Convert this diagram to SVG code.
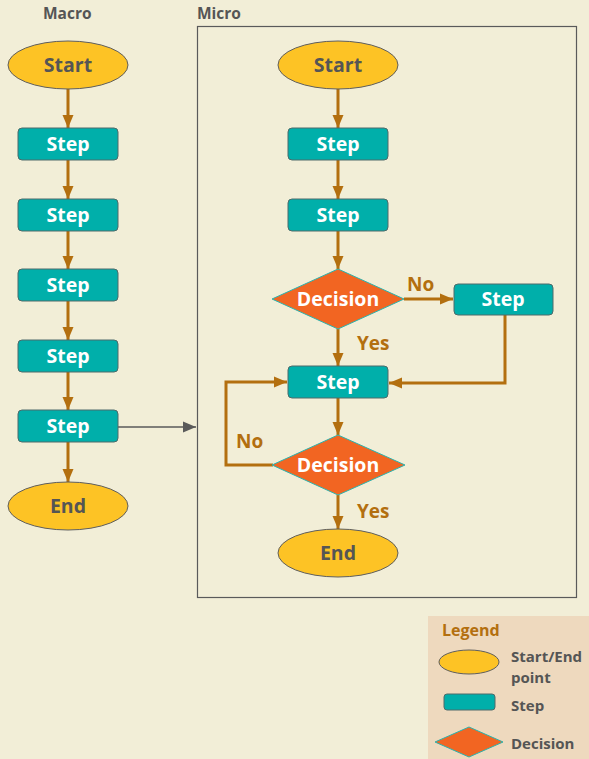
<svg xmlns="http://www.w3.org/2000/svg" width="589" height="759" viewBox="0 0 589 759">
<defs>
<style>
.bg{fill:#F2EED7}
.term{fill:#FDC325;stroke:#5E5E5E;stroke-width:1}
.step{fill:#00AFAA;stroke:#4E6A6A;stroke-width:1}
.dec{fill:#F26522;stroke:#2BB3AE;stroke-width:1}
.conn{fill:none;stroke:#B36F0F;stroke-width:3}
.gconn{fill:none;stroke:#5A5A5A;stroke-width:1.3}
text{font-family:"Open Sans","Noto Sans","Liberation Sans",sans-serif;font-weight:bold}
.tw{fill:#FFFFFF;font-size:19.5px;text-anchor:middle}
.tg{fill:#555555;font-size:19.5px;text-anchor:middle}
.lab{fill:#B36F0F;font-size:19px}
.hdr{fill:#555555;font-size:15.5px}
.leg{fill:#555555;font-size:15px}
</style>
<marker id="ah" markerUnits="userSpaceOnUse" markerWidth="14" markerHeight="14" refX="13" refY="7" orient="auto">
<path d="M0,1.5 L13,7 L0,12.5 Z" fill="#B36F0F"/>
</marker>
<marker id="gah" markerUnits="userSpaceOnUse" markerWidth="14" markerHeight="14" refX="13" refY="7" orient="auto">
<path d="M0,1.5 L13,7 L0,12.5 Z" fill="#5A5A5A"/>
</marker>
</defs>
<rect class="bg" x="0" y="0" width="589" height="759"/>
<text class="hdr" x="43" y="19">Macro</text>
<text class="hdr" x="197" y="19">Micro</text>
<rect id="micro-frame" x="197.5" y="26.5" width="379" height="571" fill="none" stroke="#5A5A5A" stroke-width="1.2"/>

<g id="connectors">
<path class="conn" d="M68,89 V128" marker-end="url(#ah)"/>
<path class="conn" d="M68,160 V199" marker-end="url(#ah)"/>
<path class="conn" d="M68,231 V269" marker-end="url(#ah)"/>
<path class="conn" d="M68,301 V340" marker-end="url(#ah)"/>
<path class="conn" d="M68,372 V410" marker-end="url(#ah)"/>
<path class="conn" d="M68,442 V482" marker-end="url(#ah)"/>
<path class="gconn" d="M118,427 H196" marker-end="url(#gah)"/>
<path class="conn" d="M338,89 V128" marker-end="url(#ah)"/>
<path class="conn" d="M338,160 V199" marker-end="url(#ah)"/>
<path class="conn" d="M338,231 V269" marker-end="url(#ah)"/>
<path class="conn" d="M404,299 H453" marker-end="url(#ah)"/>
<path class="conn" d="M338,329 V366" marker-end="url(#ah)"/>
<path class="conn" d="M505,315 V383 H389" marker-end="url(#ah)"/>
<path class="conn" d="M338,398 V435" marker-end="url(#ah)"/>
<path class="conn" d="M273,465 H226 V382 H287" marker-end="url(#ah)"/>
<path class="conn" d="M338,495 V529" marker-end="url(#ah)"/>
<text class="lab" x="407" y="291">No</text>
<text class="lab" x="357" y="350">Yes</text>
<text class="lab" x="236" y="448">No</text>
<text class="lab" x="357" y="518">Yes</text>
</g>

<g id="macro-start"><ellipse class="term" cx="68" cy="65" rx="60" ry="24"/><text class="tg" x="68" y="72">Start</text></g>
<g id="macro-step1"><rect class="step" x="18" y="128" width="100" height="32" rx="4"/><text class="tw" x="68" y="151">Step</text></g>
<g id="macro-step2"><rect class="step" x="18" y="199" width="100" height="32" rx="4"/><text class="tw" x="68" y="222">Step</text></g>
<g id="macro-step3"><rect class="step" x="18" y="269" width="100" height="32" rx="4"/><text class="tw" x="68" y="292">Step</text></g>
<g id="macro-step4"><rect class="step" x="18" y="340" width="100" height="32" rx="4"/><text class="tw" x="68" y="363">Step</text></g>
<g id="macro-step5"><rect class="step" x="18" y="410" width="100" height="32" rx="4"/><text class="tw" x="68" y="433">Step</text></g>
<g id="macro-end"><ellipse class="term" cx="68" cy="506" rx="60" ry="24"/><text class="tg" x="68" y="513">End</text></g>

<g id="micro-start"><ellipse class="term" cx="338" cy="65" rx="60" ry="24"/><text class="tg" x="338" y="72">Start</text></g>
<g id="micro-step1"><rect class="step" x="288" y="128" width="100" height="32" rx="4"/><text class="tw" x="338" y="151">Step</text></g>
<g id="micro-step2"><rect class="step" x="288" y="199" width="100" height="32" rx="4"/><text class="tw" x="338" y="222">Step</text></g>
<g id="micro-decision1"><polygon class="dec" points="272,299 338,269 404,299 338,329"/><text class="tw" x="338" y="306">Decision</text></g>
<g id="micro-step-right"><rect class="step" x="454" y="284" width="99" height="31" rx="4"/><text class="tw" x="503" y="306">Step</text></g>
<g id="micro-step3"><rect class="step" x="288" y="366" width="100" height="32" rx="4"/><text class="tw" x="338" y="389">Step</text></g>
<g id="micro-decision2"><polygon class="dec" points="272,465 338,435 405,465 338,495"/><text class="tw" x="338" y="472">Decision</text></g>
<g id="micro-end"><ellipse class="term" cx="338" cy="553" rx="60" ry="24"/><text class="tg" x="338" y="560">End</text></g>

<g id="legend">
<rect x="428" y="616" width="161" height="143" fill="#EED9BE"/>
<text x="442" y="636" fill="#B36F0F" font-size="16">Legend</text>
<ellipse class="term" cx="469" cy="662" rx="30" ry="12"/>
<text class="leg" x="511" y="662">Start/End</text>
<text class="leg" x="511" y="683">point</text>
<rect class="step" x="444" y="694" width="51" height="16" rx="3"/>
<text class="leg" x="511" y="711">Step</text>
<polygon class="dec" points="435,742 469,727 503,742 469,757"/>
<text class="leg" x="511" y="749">Decision</text>
</g>
</svg>
